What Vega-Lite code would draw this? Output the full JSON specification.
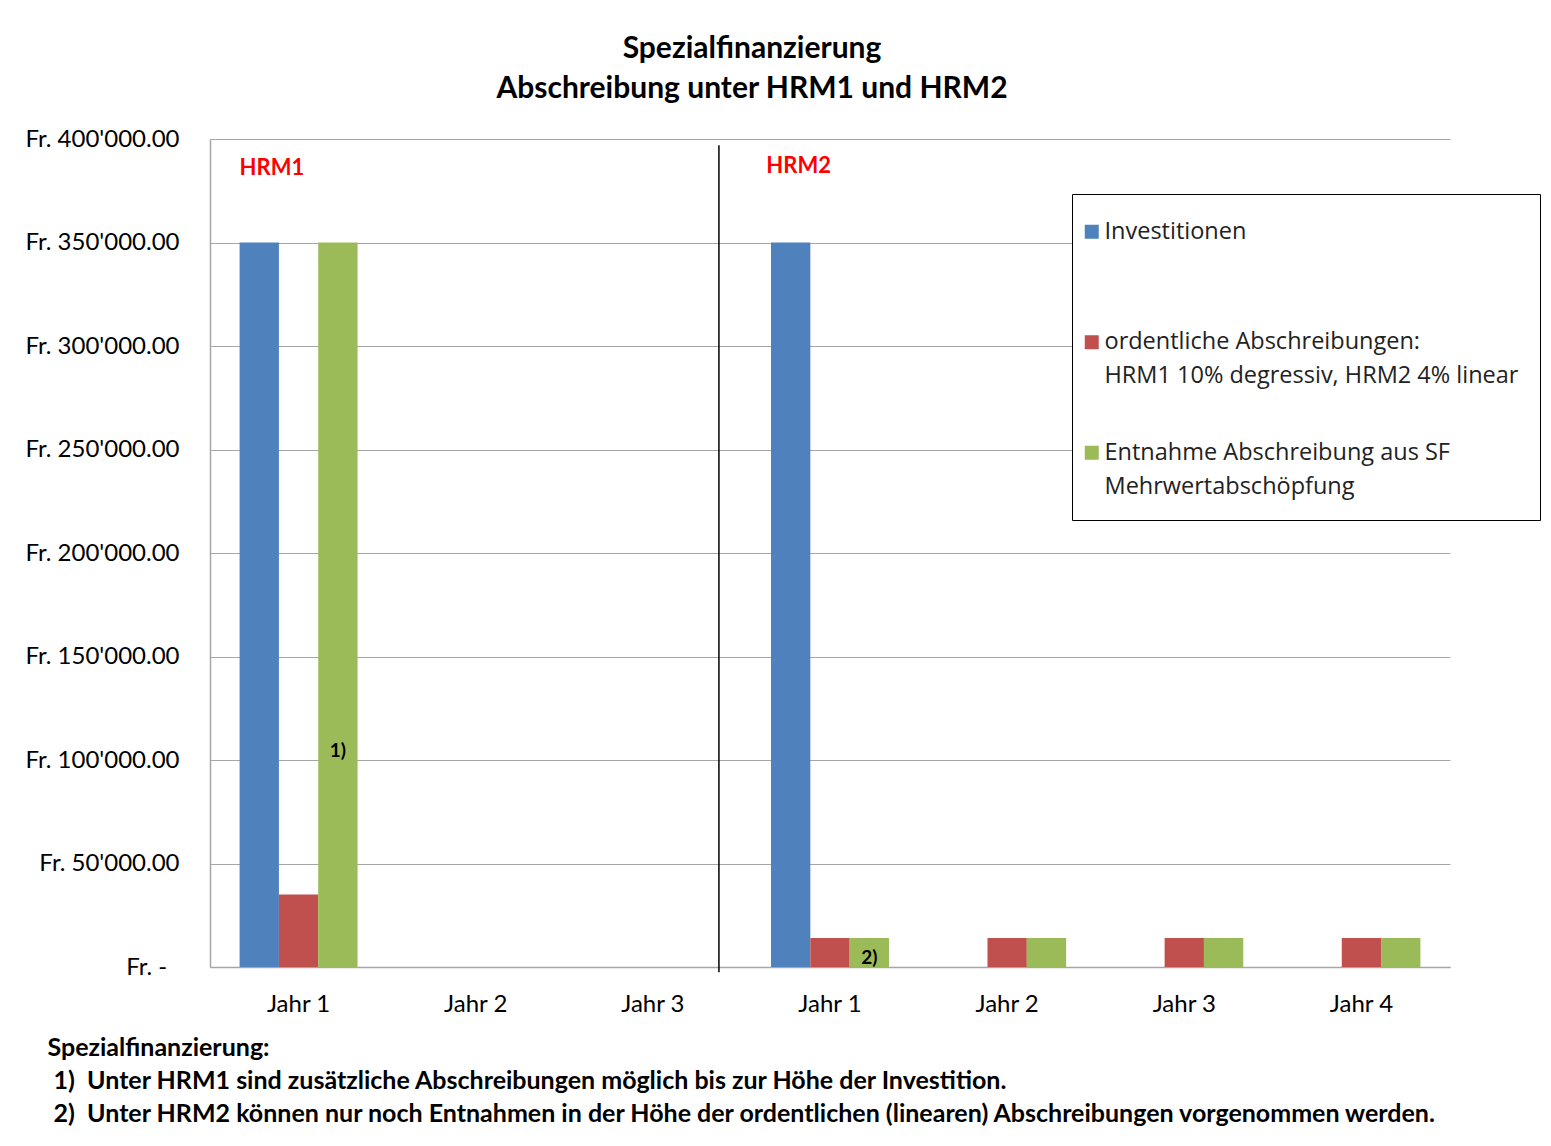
{
  "$schema": "https://vega.github.io/schema/vega-lite/v6.json",
  "width": 1240,
  "height": 828,
  "autosize": {"type": "none"},
  "padding": {"left": 210, "top": 139, "right": 101, "bottom": 179},
  "background": "white",
  "title": {
    "text": ["Spezialfinanzierung", "Abschreibung unter HRM1 und HRM2"],
    "font": "Lato",
    "fontSize": 30,
    "fontWeight": "bold",
    "lineHeight": 40,
    "anchor": "middle",
    "dx": -78,
    "offset": 23,
    "color": "black"
  },
  "datasets": {
    "bars": [
      {"kat": "H1J1", "serie": "Investitionen", "betrag": 350000},
      {"kat": "H1J1", "serie": "ordentliche Abschreibungen: HRM1 10% degressiv, HRM2 4% linear", "betrag": 35000},
      {"kat": "H1J1", "serie": "Entnahme Abschreibung aus SF Mehrwertabschöpfung", "betrag": 350000},
      {"kat": "H2J1", "serie": "Investitionen", "betrag": 350000},
      {"kat": "H2J1", "serie": "ordentliche Abschreibungen: HRM1 10% degressiv, HRM2 4% linear", "betrag": 14000},
      {"kat": "H2J1", "serie": "Entnahme Abschreibung aus SF Mehrwertabschöpfung", "betrag": 14000},
      {"kat": "H2J2", "serie": "ordentliche Abschreibungen: HRM1 10% degressiv, HRM2 4% linear", "betrag": 14000},
      {"kat": "H2J2", "serie": "Entnahme Abschreibung aus SF Mehrwertabschöpfung", "betrag": 14000},
      {"kat": "H2J3", "serie": "ordentliche Abschreibungen: HRM1 10% degressiv, HRM2 4% linear", "betrag": 14000},
      {"kat": "H2J3", "serie": "Entnahme Abschreibung aus SF Mehrwertabschöpfung", "betrag": 14000},
      {"kat": "H2J4", "serie": "ordentliche Abschreibungen: HRM1 10% degressiv, HRM2 4% linear", "betrag": 14000},
      {"kat": "H2J4", "serie": "Entnahme Abschreibung aus SF Mehrwertabschöpfung", "betrag": 14000}
    ],
    "trenner": [{"kat": "H1J3", "oben": 397000, "unten": -2500}],
    "hrm1": [{"kat": "H1J1", "text": "HRM1", "pos": 386000}],
    "hrm2": [{"kat": "H2J1", "text": "HRM2", "pos": 387000}],
    "noten": [
      {"kat": "H1J1", "serie": "Entnahme Abschreibung aus SF Mehrwertabschöpfung", "text": "1)", "pos": 104300},
      {"kat": "H2J1", "serie": "Entnahme Abschreibung aus SF Mehrwertabschöpfung", "text": "2)", "pos": 4300}
    ]
  },
  "layer": [
    {
      "data": {"name": "bars"},
      "mark": {"type": "bar"},
      "encoding": {
        "x": {
          "field": "kat",
          "type": "nominal",
          "scale": {
            "domain": ["H1J1", "H1J2", "H1J3", "H2J1", "H2J2", "H2J3", "H2J4"],
            "paddingInner": 0.334,
            "paddingOuter": 0.167
          },
          "axis": {
            "labelExpr": "'Jahr ' + substring(datum.value, 3, 4)",
            "labelAngle": 0,
            "labelFont": "Lato",
            "labelFontSize": 24,
            "labelColor": "black",
            "labelPadding": 25,
            "ticks": false,
            "domainColor": "#a6a6a6",
            "domainWidth": 1.5,
            "title": [
              "Spezialfinanzierung:",
              "\u200b\u00a01)\u00a0\u00a0Unter HRM1 sind zusätzliche Abschreibungen möglich bis zur Höhe der Investition.",
              "\u200b\u00a02)\u00a0\u00a0Unter HRM2 können nur noch Entnahmen in der Höhe der ordentlichen (linearen) Abschreibungen vorgenommen werden."
            ],
            "titleFont": "Lato",
            "titleFontSize": 25,
            "titleFontWeight": "bold",
            "titleColor": "black",
            "titleAlign": "left",
            "titleAnchor": "start",
            "titleBaseline": "top",
            "titleAngle": 0,
            "titleX": -163,
            "titleY": 68,
            "titleLineHeight": 33
          }
        },
        "xOffset": {
          "field": "serie",
          "scale": {"domain": ["Investitionen", "ordentliche Abschreibungen: HRM1 10% degressiv, HRM2 4% linear", "Entnahme Abschreibung aus SF Mehrwertabschöpfung"]}
        },
        "y": {
          "field": "betrag",
          "type": "quantitative",
          "scale": {"domain": [0, 400000], "nice": false},
          "axis": {
            "title": null,
            "values": [0, 50000, 100000, 150000, 200000, 250000, 300000, 350000, 400000],
            "labelExpr": "datum.value == 0 ? 'Fr. -\u00a0\u00a0\u200b' : 'Fr. ' + replace(format(datum.value, ',.2f'), ',', \"'\")",
            "labelFont": "Lato",
            "labelFontSize": 24,
            "labelColor": "black",
            "labelPadding": 31,
            "ticks": false,
            "domainColor": "#a6a6a6",
            "domainWidth": 1.5,
            "grid": true,
            "gridColor": "#a6a6a6",
            "gridWidth": 1.2
          }
        },
        "color": {
          "field": "serie",
          "type": "nominal",
          "scale": {
            "domain": ["Investitionen", "ordentliche Abschreibungen: HRM1 10% degressiv, HRM2 4% linear", "Entnahme Abschreibung aus SF Mehrwertabschöpfung"],
            "range": ["#4F81BD", "#C0504D", "#9BBB59"]
          },
          "legend": {
            "orient": "none",
            "legendX": 862,
            "legendY": 55,
            "direction": "vertical",
            "title": " ",
            "titleFontSize": 2,
            "titlePadding": 3,
            "fillColor": "white",
            "strokeColor": "black",
            "padding": 21,
            "symbolType": "square",
            "symbolSize": 196,
            "symbolStrokeWidth": 0,
            "symbolOffset": -13,
            "labelFont": "Open Sans",
            "labelFontSize": 23.5,
            "labelColor": "#222222",
            "labelOffset": 1,
            "labelLimit": 700,
            "rowPadding": 51.5,
            "labelExpr": "datum.label == 'Investitionen' ? ['Investitionen', ' '] : indexof(datum.label, 'ordentliche') == 0 ? ['ordentliche Abschreibungen:', 'HRM1 10% degressiv, HRM2 4% linear'] : ['Entnahme Abschreibung aus SF', 'Mehrwertabschöpfung']"
          }
        }
      }
    },
    {
      "data": {"name": "trenner"},
      "mark": {"type": "rule", "color": "black", "strokeWidth": 1.5},
      "encoding": {
        "x": {"field": "kat", "type": "nominal", "bandPosition": 1.06},
        "y": {"field": "oben", "type": "quantitative"},
        "y2": {"field": "unten"}
      }
    },
    {
      "data": {"name": "hrm1"},
      "mark": {"type": "text", "align": "left", "baseline": "middle", "font": "Lato", "fontSize": 22, "fontWeight": "bold", "color": "#FF0000"},
      "encoding": {
        "x": {"field": "kat", "type": "nominal", "bandPosition": 0},
        "y": {"field": "pos", "type": "quantitative"},
        "text": {"field": "text"}
      }
    },
    {
      "data": {"name": "hrm2"},
      "mark": {"type": "text", "align": "left", "baseline": "middle", "font": "Lato", "fontSize": 22, "fontWeight": "bold", "color": "#FF0000"},
      "encoding": {
        "x": {"field": "kat", "type": "nominal", "bandPosition": -0.04},
        "y": {"field": "pos", "type": "quantitative"},
        "text": {"field": "text"}
      }
    },
    {
      "data": {"name": "noten"},
      "mark": {"type": "text", "align": "center", "baseline": "middle", "font": "Lato", "fontSize": 19, "fontWeight": "bold", "color": "black"},
      "encoding": {
        "x": {"field": "kat", "type": "nominal"},
        "xOffset": {"field": "serie"},
        "y": {"field": "pos", "type": "quantitative"},
        "text": {"field": "text"}
      }
    }
  ],
  "config": {
    "view": {"stroke": null},
    "style": {"guide-label": {"lineHeight": 34}}
  }
}
